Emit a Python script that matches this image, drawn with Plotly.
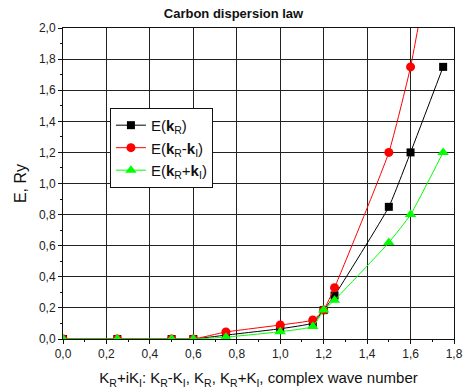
import plotly.graph_objects as go

x = [0.0, 0.25, 0.5, 0.6, 0.75, 1.0, 1.15, 1.2, 1.25, 1.5, 1.6, 1.75]
e_r = [0.0, 0.0, 0.0, 0.0, 0.025, 0.066, 0.103, 0.186, 0.28, 0.85, 1.2, 1.75]
e_rm = [0.0, 0.0, 0.0, 0.0, 0.045, 0.09, 0.122, 0.186, 0.33, 1.2, 1.75, 2.9]
e_rp = [0.0, 0.0, 0.0, 0.0, 0.012, 0.047, 0.081, 0.186, 0.25, 0.62, 0.8, 1.2]

names = ["E(<b>k</b><sub>R</sub>)", "E(<b>k</b><sub>R</sub>-<b>k</b><sub>I</sub>)",
         "E(<b>k</b><sub>R</sub>+<b>k</b><sub>I</sub>)"]
colors = ["#000000", "#ff0000", "#00ff00"]
symbols = ["square", "circle", "triangle-up"]
sizes = [8, 9, 10]

fig = go.Figure()
for ys, n, c, s, sz in zip([e_r, e_rm, e_rp], names, colors, symbols, sizes):
    fig.add_trace(go.Scatter(x=x, y=ys, name=n, mode="lines+markers",
                             line=dict(color=c, width=1, shape="spline", smoothing=0.4),
                             marker=dict(symbol=s, size=sz, color=c), cliponaxis=True))

font = "Liberation Sans, Arial, sans-serif"
fig.update_layout(
    width=467, height=390, separators=", ",
    margin=dict(l=63, r=13, t=28, b=51),
    paper_bgcolor="white", plot_bgcolor="white",
    font=dict(family=font, color="#222", size=12),
    title=dict(text="<b>Carbon dispersion law</b>", x=0.5, xanchor="center",
               y=0.965, yanchor="middle", font=dict(size=13, color="#111")),
    showlegend=True,
    legend=dict(x=0.12, y=0.743, xanchor="left", yanchor="top", bgcolor="white",
                bordercolor="#111", borderwidth=1, font=dict(size=15, color="#111"),
                tracegroupgap=0, itemwidth=30),
)
fig.update_xaxes(range=[0, 1.8], dtick=0.2, tick0=0, tickformat=".1f",
                 showgrid=True, gridcolor="#222", gridwidth=1,
                 showline=True, linecolor="#111", linewidth=1, mirror=True,
                 ticks="outside", ticklen=4, tickcolor="#111",
                 minor=dict(dtick=0.1, ticks="outside", ticklen=2, tickcolor="#111", showgrid=False),
                 zeroline=False, automargin=False,
                 title=dict(text="K<sub>R</sub>+iK<sub>I</sub>: K<sub>R</sub>-K<sub>I</sub>, K<sub>R</sub>, K<sub>R</sub>+K<sub>I</sub>, complex wave number",
                            font=dict(size=15, color="#111"), standoff=12))
fig.update_yaxes(range=[0, 2.0], dtick=0.2, tick0=0, tickformat=".1f",
                 showgrid=True, gridcolor="#222", gridwidth=1,
                 showline=True, linecolor="#111", linewidth=1, mirror=True,
                 ticks="outside", ticklen=4, tickcolor="#111",
                 minor=dict(dtick=0.1, ticks="outside", ticklen=2, tickcolor="#111", showgrid=False),
                 zeroline=False, automargin=False,
                 title=dict(text="E, Ry", font=dict(size=16, color="#111"), standoff=8))

fig.write_html("out.html")
